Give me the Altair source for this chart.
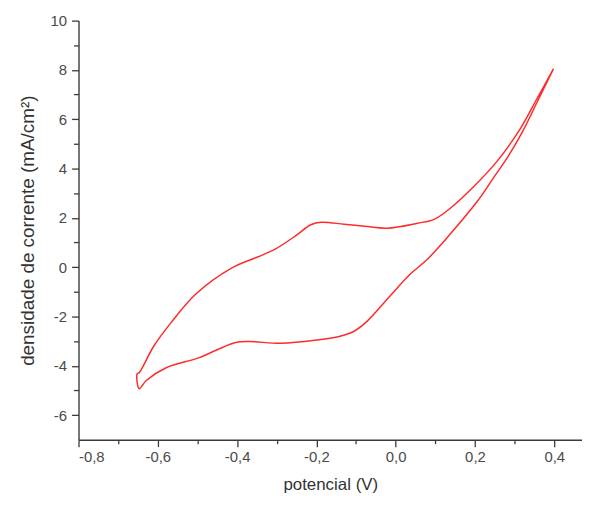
import altair as alt
import pandas as pd

# Cyclic voltammogram: lower (cathodic) branch from +0.4 V down, then upper (anodic) branch back
lower_x = [0.398, 0.36, 0.32, 0.28, 0.25, 0.205, 0.137, 0.08, 0.037, -0.021, -0.071, -0.105,
           -0.14, -0.204, -0.289, -0.37, -0.404, -0.45, -0.497, -0.579, -0.629, -0.647]
lower_y = [8.04, 6.8, 5.5, 4.4, 3.7, 2.65, 1.33, 0.32, -0.28, -1.29, -2.18, -2.6,
           -2.8, -2.97, -3.09, -3.02, -3.06, -3.35, -3.68, -4.08, -4.6, -4.93]
upper_x = [-0.652, -0.647, -0.61, -0.567, -0.504, -0.414, -0.35, -0.304, -0.25, -0.214,
           -0.188, -0.13, -0.078, -0.021, 0.055, 0.097, 0.137, 0.192, 0.255, 0.313,
           0.355, 0.398]
upper_y = [-4.32, -4.28, -3.2, -2.26, -1.09, -0.04, 0.4, 0.73, 1.3, 1.72,
           1.82, 1.74, 1.66, 1.58, 1.78, 1.94, 2.38, 3.19, 4.28, 5.58,
           6.79, 8.04]

xs = lower_x + upper_x
ys = lower_y + upper_y
df = pd.DataFrame({"E": xs, "J": ys, "o": list(range(len(xs)))})

x_major = [-0.8, -0.6, -0.4, -0.2, 0.0, 0.2, 0.4]
x_minor = [-0.7, -0.5, -0.3, -0.1, 0.1, 0.3]
y_major = [-6, -4, -2, 0, 2, 4, 6, 8, 10]
y_minor = [-5, -3, -1, 1, 3, 5, 7, 9]

axis_common = dict(
    grid=False, domainColor="#3a3a3a", domainWidth=1.4, tickColor="#3a3a3a",
    tickWidth=1.3, labelColor="#4a4a4a", labelFont="Liberation Sans",
    labelFontSize=15, titleFont="Liberation Sans",
    titleFontWeight="normal", titleColor="#333333",
)

xs_scale = alt.Scale(domain=[-0.8, 0.47], nice=False, zero=False)
ys_scale = alt.Scale(domain=[-7, 10], nice=False, zero=False)

main = alt.Chart(df).mark_line(color="#ff2a2a", strokeWidth=1.5, interpolate="catmull-rom").encode(
    x=alt.X("E:Q", scale=xs_scale,
            axis=alt.Axis(values=x_major, title="potencial (V)", orient="bottom", tickSize=7,
                          labelExpr="replace(replace(format(datum.value, '.1f'), '.', ','), '\u2212', '-')",
                          labelPadding=3, titlePadding=12, titleFontSize=17, **axis_common)),
    y=alt.Y("J:Q", scale=ys_scale,
            axis=alt.Axis(values=y_major, title="densidade de corrente (mA/cm²)", orient="left",
                          tickSize=7,
                          labelExpr="replace(format(datum.value, 'd'), '\u2212', '-')",
                          labelPadding=5, titlePadding=13, titleFontSize=19, **axis_common)),
    order="o:Q",
)

minor = alt.Chart(df).mark_line(opacity=0).encode(
    x=alt.X("E:Q", scale=xs_scale,
            axis=alt.Axis(values=x_minor, title=None, orient="bottom", tickSize=4,
                          labels=False, domain=False, grid=False, tickColor="#3a3a3a", tickWidth=1.3)),
    y=alt.Y("J:Q", scale=ys_scale,
            axis=alt.Axis(values=y_minor, title=None, orient="left", tickSize=5,
                          labels=False, domain=False, grid=False, tickColor="#3a3a3a", tickWidth=1.3)),
    order="o:Q",
)

chart = alt.layer(main, minor).resolve_axis(x="independent", y="independent").properties(
    width=507, height=422,
    autosize=alt.AutoSizeParams(type="none"),
    padding={"left": 71, "top": 11, "right": 0, "bottom": 57},
).configure_view(stroke=None)

chart.save("out.html", embed_options={"renderer": "svg", "actions": False})
